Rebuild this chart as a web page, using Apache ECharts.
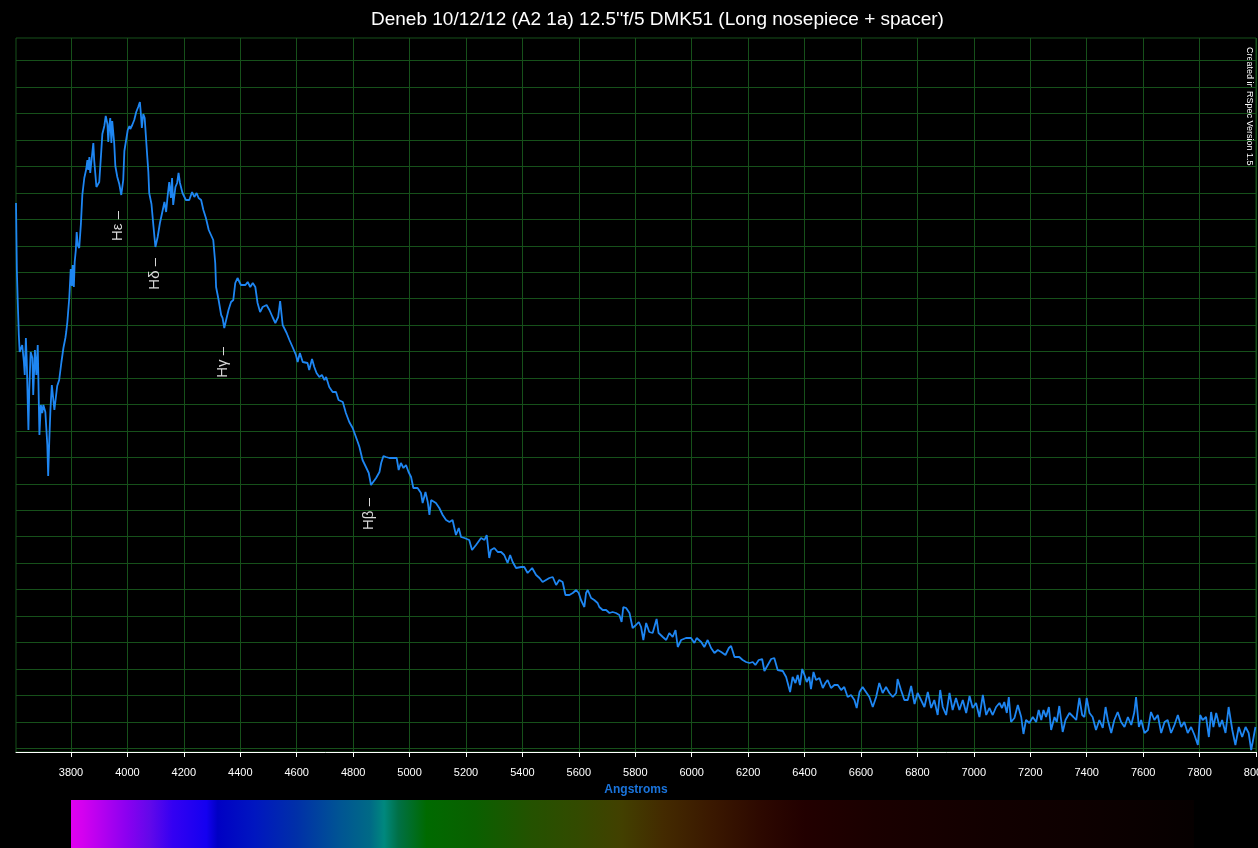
<!DOCTYPE html>
<html>
<head>
<meta charset="utf-8">
<title>Deneb spectrum</title>
<script src="https://cdn.jsdelivr.net/npm/echarts@6/dist/echarts.min.js"></script>
<style>
    html, body { margin: 0; padding: 0; background: #000; }
    #spectrum { width: 1258px; height: 848px; }
</style>
</head>
<body>
<div id="spectrum"></div>
<script>
// profile: wavelength (Angstrom) / relative intensity (arbitrary units)
var wavelengths = [
    3606,3609,3612,3616,3619,3625,3628,3634,3637,3641,3644,3650,3653,3658,3664,3667,3673,3678,3683,3689,
    3694,3699,3703,3710,3717,3720,3724,3728,3733,3738,3742,3747,3752,3759,3767,3774,3781,3784,3788,3795,
    3800,3804,3807,3811,3814,3818,3821,3825,3830,3836,3841,3848,3855,3859,3862,3866,3869,3873,3880,3883,
    3891,3898,3901,3908,3912,3919,3924,3930,3933,3937,3940,3944,3947,3951,3954,3958,3965,3972,3979,3986,
    3990,3997,4002,4008,4011,4018,4025,4032,4039,4045,4048,4052,4057,4062,4066,4071,4075,4078,4086,4093,
    4100,4108,4116,4126,4132,4138,4143,4149,4155,4159,4163,4171,4177,4182,4187,4196,4208,4220,4230,4238,
    4246,4253,4262,4270,4279,4289,4297,4305,4312,4315,4324,4333,4338,4344,4350,4359,4368,4376,4383,4391,
    4403,4419,4427,4436,4445,4454,4462,4471,4480,4494,4504,4515,4525,4535,4542,4546,4551,4558,4565,4575,
    4586,4598,4604,4612,4622,4639,4645,4655,4663,4671,4681,4690,4699,4705,4716,4728,4740,4749,4764,4775,
    4787,4799,4808,4817,4823,4834,4846,4856,4864,4882,4894,4900,4908,4917,4929,4947,4955,4962,4970,4979,
    4988,4997,5006,5014,5029,5041,5047,5057,5065,5071,5077,5094,5106,5118,5130,5142,5153,5165,5175,5183,
    5195,5212,5222,5236,5254,5266,5274,5277,5283,5289,5301,5313,5325,5336,5348,5357,5366,5378,5396,5407,
    5419,5435,5449,5461,5472,5484,5496,5508,5520,5531,5543,5553,5567,5579,5591,5600,5608,5620,5626,5632,
    5644,5655,5667,5673,5685,5697,5709,5720,5732,5744,5752,5758,5768,5780,5791,5803,5813,5821,5829,5839,
    5850,5862,5876,5883,5898,5910,5921,5933,5943,5951,5963,5980,5998,6010,6018,6034,6045,6057,6069,6081,
    6093,6105,6120,6132,6140,6152,6169,6181,6193,6205,6217,6226,6238,6250,6258,6270,6282,6293,6305,6323,
    6335,6349,6358,6368,6376,6384,6392,6400,6408,6417,6423,6432,6441,6453,6465,6474,6482,6494,6506,6518,
    6530,6541,6553,6565,6577,6585,6595,6606,6618,6630,6642,6654,6665,6677,6689,6701,6713,6725,6730,6742,
    6754,6766,6778,6790,6801,6813,6825,6837,6849,6860,6872,6881,6890,6902,6914,6925,6937,6949,6961,6973,
    6985,6996,7008,7020,7032,7044,7055,7067,7079,7091,7100,7108,7117,7124,7132,7144,7156,7168,7176,7185,
    7197,7209,7221,7230,7239,7247,7256,7266,7274,7286,7294,7303,7315,7325,7339,7353,7363,7374,7384,7392,
    7400,7410,7421,7433,7445,7457,7467,7475,7487,7498,7510,7522,7534,7546,7558,7569,7575,7585,7593,7605,
    7617,7628,7640,7652,7664,7676,7687,7699,7711,7723,7735,7746,7758,7770,7782,7794,7802,7811,7823,7833,
    7841,7849,7859,7871,7880,7892,7903,7916,7927,7939,7951,7963,7974,7983,7991,7998
];
var intensity = [
    549,482,452,417,400,402,407,390,377,414,392,322,362,400,394,357,402,377,407,317,
    347,339,347,340,307,276,312,342,367,365,342,354,366,372,390,404,414,420,430,455,
    483,466,487,465,490,502,520,507,504,528,557,574,583,592,582,595,579,590,609,592,
    565,566,570,600,618,626,636,628,610,627,634,609,631,633,609,586,575,568,557,572,
    601,602,622,626,623,627,632,640,645,650,640,624,638,634,617,596,580,559,548,526,
    505,515,529,542,550,540,555,570,554,574,547,565,569,579,569,559,552,552,560,555,
    559,554,552,542,534,522,517,512,489,465,452,437,434,424,425,442,450,452,469,474,
    467,467,470,465,469,465,449,440,445,447,442,435,429,435,451,450,427,425,419,412,
    405,397,390,399,390,389,382,393,385,379,375,377,372,375,365,360,360,352,350,339,
    330,324,317,310,305,292,285,279,267,274,280,289,296,295,294,294,294,282,289,284,
    287,280,275,264,264,259,249,260,250,237,252,249,244,237,232,230,232,217,224,215,
    214,212,202,207,214,212,217,219,194,202,204,200,200,197,189,197,190,184,185,185,
    179,184,177,174,170,172,174,175,167,172,170,157,157,159,162,159,152,145,159,162,
    154,152,149,145,142,142,139,140,139,137,130,145,144,139,124,127,130,125,112,129,
    120,119,133,119,115,112,119,115,122,105,112,114,114,109,114,110,105,112,104,99,
    102,100,97,104,106,95,95,92,90,89,90,87,92,93,81,87,93,94,82,81,
    75,60,75,69,77,67,83,77,70,75,63,80,72,74,64,69,72,64,67,67,
    62,65,55,57,52,44,60,65,60,55,45,55,69,59,65,59,55,59,73,62,
    52,52,66,48,59,52,45,60,44,52,37,62,45,37,59,42,54,42,52,39,
    56,44,49,35,57,37,44,37,45,49,44,50,39,55,30,34,47,35,18,32,
    29,35,30,42,32,42,35,45,22,35,30,46,20,32,39,35,32,54,37,35,
    54,39,35,22,32,24,45,32,19,32,40,30,25,35,27,40,55,25,32,19,
    22,40,32,37,19,30,32,19,27,37,25,30,19,25,17,7,37,32,35,15,
    40,25,39,25,32,19,45,22,7,25,15,25,19,2,14,25
];

// absorption line markers
var lineNames = ['H\u03b5 \u2013', 'H\u03b4 \u2013', 'H\u03b3 \u2013', 'H\u03b2 \u2013'];
var lineWl = [3968, 4099, 4339, 4858];
var lineTop = [541, 494, 405, 254];

// colour strip under the axis
var specWl = [3800, 3840, 3910, 4000, 4080, 4160, 4280, 4320, 4450, 4600, 4750, 4860, 4910, 4960,
    5060, 5230, 5430, 5600, 5750, 5900, 6070, 6250, 6400, 6650, 7050, 7450, 7780];
var specColor = ['#e000f0', '#d400f0', '#b400f0', '#8a00f0', '#6208ea', '#3400f2', '#1400f0', '#0000c4',
    '#0016c0', '#0030a8', '#005494', '#006a86', '#00887e', '#007046', '#006a00', '#0a6000', '#245200',
    '#334a00', '#424000', '#432a00', '#3a1800', '#2c0800', '#220000', '#1a0000', '#120000', '#0c0000', '#060000'];

var gridGreen = '#16501a';
var fontName = 'Liberation Sans';

spectrumChart();

function spectrumChart() {
    var myChart = echarts.init(document.getElementById('spectrum'));

    var points = [];
    for (var i = 0; i < wavelengths.length; i++) {
        points.push([wavelengths[i], intensity[i]]);
    }

    var markers = [];
    for (var j = 0; j < lineNames.length; j++) {
        markers.push({name: lineNames[j], coord: [lineWl[j], lineTop[j]]});
    }

    var span = specWl[specWl.length - 1] - specWl[0];
    var stops = [];
    for (var k = 0; k < specWl.length; k++) {
        stops.push({offset: (specWl[k] - specWl[0]) / span, color: specColor[k]});
    }

    var option = {
        backgroundColor: '#000',
        animation: false,
        title: {
            text: "Deneb 10/12/12 (A2 1a) 12.5''f/5 DMK51 (Long nosepiece + spacer)",
            left: 366,
            top: 5,
            textStyle: {
                color: '#fff',
                fontSize: 19,
                fontWeight: 'normal',
                fontFamily: fontName
            }
        },
        graphic: [{
            type: 'text',
            x: 1249,
            y: 47,
            rotation: -Math.PI / 2,
            style: {
                text: 'Created in RSpec Version 1.5',
                fill: '#fff',
                font: '9px ' + fontName,
                textAlign: 'left',
                textVerticalAlign: 'middle'
            }
        }],
        grid: [
            // plot box
            {left: 16, right: 2, top: 38, bottom: 96, outerBoundsMode: 'none', show: true,
                borderColor: gridGreen, borderWidth: 1, backgroundColor: 'transparent'},
            // vertical grid + wavelength ticks
            {left: 71, right: 2, top: 38, bottom: 96, outerBoundsMode: 'none'},
            // horizontal grid
            {left: 16, right: 2, top: 60.7, bottom: 99.7, outerBoundsMode: 'none'},
            // colour strip
            {left: 71, right: 2, top: 800, bottom: 0, outerBoundsMode: 'none'}
        ],
        xAxis: [
            {
                gridIndex: 0,
                type: 'value',
                min: 3606,
                max: 8000,
                offset: 6,
                axisLine: {lineStyle: {color: '#fff', width: 1}},
                axisTick: {show: false},
                axisLabel: {show: false},
                splitLine: {show: false},
                name: 'Angstroms',
                nameLocation: 'middle',
                nameGap: 26,
                nameTextStyle: {
                    color: '#1a74dc',
                    fontSize: 12,
                    fontWeight: 'bold',
                    fontFamily: fontName
                }
            },
            {
                gridIndex: 1,
                type: 'value',
                min: 3800,
                max: 8000,
                interval: 200,
                offset: 6,
                axisLine: {show: false},
                axisTick: {show: true, length: 5, lineStyle: {color: '#fff'}},
                axisLabel: {
                    color: '#fff',
                    fontSize: 11,
                    fontFamily: fontName,
                    margin: 9,
                    formatter: function (v) { return String(v); }
                },
                splitLine: {show: true, lineStyle: {color: gridGreen, width: 1}}
            },
            {gridIndex: 2, type: 'value', min: 0, max: 1, show: false},
            {gridIndex: 3, type: 'value', min: 3800, max: 8000, show: false}
        ],
        yAxis: [
            {gridIndex: 0, type: 'value', min: 0, max: 714, show: false},
            {gridIndex: 1, type: 'value', min: 0, max: 1, show: false},
            {
                gridIndex: 2,
                type: 'value',
                min: 0,
                max: 26,
                interval: 1,
                axisLine: {show: false},
                axisTick: {show: false},
                axisLabel: {show: false},
                splitLine: {show: true, lineStyle: {color: gridGreen, width: 1}}
            },
            {gridIndex: 3, type: 'value', min: 0, max: 1, show: false}
        ],
        series: [
            {
                type: 'line',
                xAxisIndex: 0,
                yAxisIndex: 0,
                data: points,
                showSymbol: false,
                symbol: 'none',
                z: 5,
                lineStyle: {color: '#1e86f2', width: 1.8},
                markPoint: {
                    symbol: 'circle',
                    symbolSize: 0,
                    itemStyle: {color: 'transparent'},
                    label: {
                        show: true,
                        formatter: '{b}',
                        position: 'inside',
                        rotate: 90,
                        align: 'right',
                        verticalAlign: 'middle',
                        color: '#d8d8d8',
                        fontSize: 15,
                        fontFamily: fontName,
                        textBorderWidth: 0
                    },
                    data: markers
                }
            },
            {
                type: 'custom',
                xAxisIndex: 3,
                yAxisIndex: 3,
                silent: true,
                data: [[specWl[0], specWl[specWl.length - 1]]],
                renderItem: function (params, api) {
                    var p0 = api.coord([api.value(0), 1]);
                    var p1 = api.coord([api.value(1), 0]);
                    return {
                        type: 'rect',
                        shape: {x: p0[0], y: p0[1], width: p1[0] - p0[0], height: p1[1] - p0[1]},
                        style: {fill: new echarts.graphic.LinearGradient(0, 0, 1, 0, stops)}
                    };
                }
            }
        ]
    };
    myChart.setOption(option);
}
</script>
</body>
</html>
